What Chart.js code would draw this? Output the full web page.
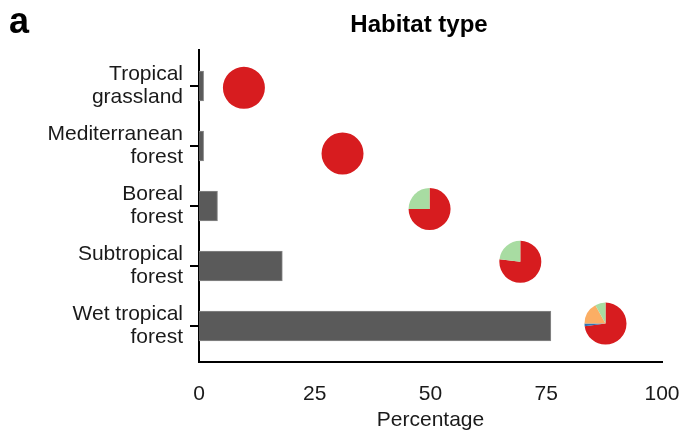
<!DOCTYPE html>
<html>
<head>
<meta charset="utf-8">
<script src="https://cdn.jsdelivr.net/npm/chart.js@4.4.1/dist/chart.umd.min.js"></script>
<style>
  html, body { margin: 0; padding: 0; background: #fff; }
  #wrap { width: 681px; height: 437px; position: relative; }
</style>
</head>
<body>
<div id="wrap"><canvas id="habitatChart"></canvas></div>
<script>
// habitat categories, top to bottom
const categories = [
    ['Tropical', 'grassland'],
    ['Mediterranean', 'forest'],
    ['Boreal', 'forest'],
    ['Subtropical', 'forest'],
    ['Wet tropical', 'forest']
];
const barValues = [1, 1, 4, 18, 76];
const xTicks = [0, 25, 50, 75, 100];

// pie positions (x in percentage units, y offset in category units)
const pieX = [9.7, 31, 49.8, 69.4, 87.8];
const pieYOffset = [0.03, 0.125, 0.05, -0.07, -0.04];
// pie shares, clockwise from 12 o'clock: red, blue, orange, green
const pieRed = [100, 100, 75, 77, 73];
const pieBlue = [0, 0, 0, 0, 2];
const pieOrange = [0, 0, 0, 0, 17];
const pieGreen = [0, 0, 25, 23, 8];
const pieColors = ['#d71c1f', '#2f74b5', '#fbae64', '#a8dca2'];

const FONT = "'Liberation Sans', Arial, sans-serif";

const piePlugin = {
    id: 'pies',
    afterDatasetsDraw(chart) {
        const ctx = chart.ctx;
        const xs = chart.scales.x, ys = chart.scales.y;
        const r = 21;
        pieX.forEach((px, i) => {
            const cx = xs.getPixelForValue(px);
            const cy = ys.getPixelForValue(i + pieYOffset[i]);
            const parts = [pieRed[i], pieBlue[i], pieOrange[i], pieGreen[i]];
            const total = parts.reduce((a, b) => a + b, 0);
            let a0 = -Math.PI / 2;
            parts.forEach((v, k) => {
                if (!v) return;
                const a1 = a0 + v / total * Math.PI * 2;
                ctx.beginPath();
                ctx.moveTo(cx, cy);
                ctx.arc(cx, cy, r, a0, a1);
                ctx.closePath();
                ctx.fillStyle = pieColors[k];
                ctx.fill();
                a0 = a1;
            });
        });
    }
};

const textPlugin = {
    id: 'headings',
    afterDraw(chart) {
        const ctx = chart.ctx;
        ctx.save();
        ctx.fillStyle = '#000';
        ctx.textBaseline = 'alphabetic';
        ctx.font = 'bold 36px ' + FONT;
        ctx.textAlign = 'left';
        ctx.fillText('a', 9, 33);
        ctx.font = 'bold 24px ' + FONT;
        ctx.textAlign = 'center';
        ctx.fillText('Habitat type', 419, 32);
        ctx.restore();
    }
};

const ctx = document.getElementById('habitatChart').getContext('2d');
new Chart(ctx, {
    type: 'bar',
    data: {
        datasets: [{
            data: barValues.map((v, i) => ({ x: v, y: i })),
            backgroundColor: '#5a5a5a',
            borderColor: '#8a8a8a',
            borderWidth: 1,
            barThickness: 30
        }]
    },
    options: {
        indexAxis: 'y',
        responsive: true,
        maintainAspectRatio: false,
        animation: false,
        layout: { padding: { top: 50, right: 19, left: 0, bottom: 0 } },
        scales: {
            x: {
                type: 'linear',
                min: 0, max: 100,
                afterBuildTicks: s => { s.ticks = xTicks.map(v => ({ value: v })); },
                afterFit: s => { s.height = 75; s.paddingLeft = 0; s.paddingRight = 0; },
                grid: { display: false },
                border: { color: '#000', width: 2 },
                ticks: { color: '#1a1a1a', padding: 12, font: { family: FONT, size: 21 } },
                title: { display: true, text: 'Percentage', color: '#1a1a1a', font: { family: FONT, size: 21 }, padding: { top: 0, bottom: 4 } }
            },
            y: {
                type: 'linear',
                reverse: true,
                offset: false,
                min: -0.6, max: 4.6,
                afterBuildTicks: s => { s.ticks = categories.map((c, i) => ({ value: i })); },
                afterFit: s => { s.width = 199; s.paddingTop = 0; s.paddingBottom = 0; },
                grid: { offset: false, drawOnChartArea: false, drawTicks: true, tickLength: 9, color: '#000', lineWidth: 2 },
                border: { color: '#000', width: 2 },
                ticks: {
                    color: '#1a1a1a', padding: 7,
                    font: { family: FONT, size: 21, lineHeight: 1.08 },
                    callback: v => categories[v]
                }
            }
        },
        plugins: { legend: { display: false }, tooltip: { enabled: false } }
    },
    plugins: [piePlugin, textPlugin]
});
</script>
</body>
</html>
